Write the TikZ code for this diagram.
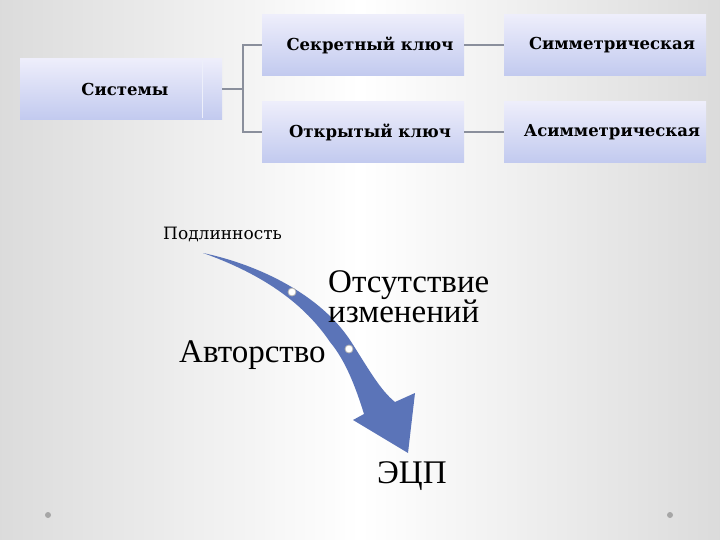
\documentclass[tikz,border=0pt]{standalone}
\usepackage{fontspec}
\setmainfont{Liberation Serif}
\newfontfamily\boxfont{DejaVu Serif}
\definecolor{boxtop}{HTML}{EEEEFB}
\definecolor{boxbot}{HTML}{C2CAEF}
\definecolor{arrowblue}{HTML}{5B74B8}
\definecolor{linegray}{HTML}{8A8F9C}
\begin{document}
\begin{tikzpicture}[x=1pt,y=-1pt,
  sbox/.style={minimum width=202pt,minimum height=61pt,inner sep=0pt,
     top color=boxtop,bottom color=boxbot,draw=none},
  btxt/.style={inner sep=0pt,font=\boxfont\bfseries\fontsize{16.5}{18}\selectfont},
  conn/.style={draw=linegray,line width=1.2pt},
  lbl/.style={inner sep=0pt,anchor=base west},
  big/.style={font=\fontsize{33}{26}\selectfont},
  dot/.style={circle,fill=white,draw=gray!60,line width=0.8pt,minimum size=8pt,inner sep=0pt}]
\useasboundingbox (0,0) rectangle (720,540);
\shade[left color=gray!28,right color=gray!28,middle color=white] (0,0) rectangle (720,540);
% boxes
\node[sbox] (sys) at (121,89) {};
\draw[white!70!boxbot,line width=1pt] (202,60) -- (202,118);
\node[sbox] (sec) at (363,45) {};
\node[sbox] (pub) at (363,132) {};
\node[sbox] (sym) at (605,45) {};
\node[sbox] (asym) at (605,132) {};
\node[btxt] (systxt) at (125,89) {Системы};
\node[btxt] (sectxt) at (370,45) {Секретный ключ};
\node[btxt] (pubtxt) at (370,132) {Открытый ключ};
\node[btxt] (symtxt) at (612,45) {Симметрическая};
\node[btxt] (asymtxt) at (612,132) {Асимметрическая};
\coordinate (j) at (243,89);
\draw[conn] (sys.east) -- (j) |- (sec.west);
\draw[conn] (j) |- (pub.west);
\draw[conn] (sec.east) -- (sym.west);
\draw[conn] (pub.east) -- (asym.west);
% curved arrow
\fill[arrowblue] (203,253)
  .. controls (260,265) and (320,295) .. (350,340)
  .. controls (368,368) and (380,390) .. (395,402)
  -- (415,393) -- (408,453) -- (353,420) -- (364,414)
  .. controls (355,385) and (345,360) .. (330,342)
  .. controls (305,305) and (265,275) .. (203,253) -- cycle;
\node[dot] (d1) at (292,292) {};
\node[dot] (d2) at (349,349) {};
% labels
\node[lbl,font=\boxfont\fontsize{17}{19}\selectfont] (pod) at (163,240) {Подлинность};
\node[inner sep=0pt,anchor=north west,align=left,big] (ots) at (328,270) {Отсутствие\\изменений};
\node[lbl,big] (avt) at (179,362) {Авторство};
\node[lbl,big] (ecp) at (377,483) {ЭЦП};
% corner dots
\node[circle,fill=gray!70,minimum size=6pt,inner sep=0pt] (c1) at (48,515) {};
\node[circle,fill=gray!70,minimum size=6pt,inner sep=0pt] (c2) at (670,515) {};
\end{tikzpicture}
\end{document}
